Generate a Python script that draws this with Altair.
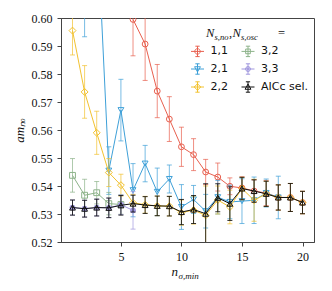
import altair as alt
import pandas as pd

# ---- data ----
n_red = list(range(6, 21))
v_red = [0.5995, 0.5907, 0.5739, 0.5639, 0.5540, 0.5512, 0.5450, 0.5432, 0.5399, 0.5393,
         0.5382, 0.5375, 0.5359, 0.5359, 0.5341]
e_red = [0.013, 0.013, 0.0095, 0.008, 0.007, 0.0057, 0.0045, 0.005, 0.003, 0.004,
         0.004, 0.0045, 0.0045, 0.005, 0.004]

n_blue = list(range(2, 19))
v_blue = [0.603, 0.637, 0.5455, 0.5671, 0.5385, 0.5480, 0.5379, 0.5425, 0.5325, 0.5352,
          0.5310, 0.5360, 0.5343, 0.5346, 0.5349, 0.5375, 0.5359]
e_blue = [0.0097, 0.010, 0.0085, 0.011, 0.0095, 0.0065, 0.0085, 0.005, 0.008, 0.005,
          0.006, 0.006, 0.006, 0.008, 0.0083, 0.005, 0.0076]

n_yel = list(range(1, 21))
v_yel = [0.5955, 0.5736, 0.5590, 0.5448, 0.5403, 0.5340, 0.5333, 0.5329, 0.5328, 0.5305,
         0.5314, 0.5295, 0.5350, 0.5325, 0.5391, 0.5349, 0.5372, 0.5359, 0.5359, 0.5341]
e_yel = [0.0087, 0.0094, 0.0077, 0.005, 0.0039, 0.003, 0.003, 0.0035, 0.0035, 0.0045,
         0.005, 0.0105, 0.005, 0.006, 0.004, 0.0075, 0.0045, 0.0045, 0.005, 0.004]

n_grn = [1, 2, 3, 4, 5]
v_grn = [0.5438, 0.5367, 0.5376, 0.5337, 0.5334]
e_grn = [0.006, 0.0057, 0.004, 0.004, 0.0035]

n_pur = [1, 2, 3, 4, 5, 6]
v_pur = [0.5323, 0.5319, 0.5323, 0.5322, 0.5333, 0.5313]
e_pur = [0.0027, 0.003, 0.003, 0.0035, 0.0035, 0.0067]

n_blk = list(range(1, 21))
v_blk = [0.5323, 0.5319, 0.5323, 0.5322, 0.5331, 0.5337, 0.5332, 0.5329, 0.5328, 0.5307,
         0.5316, 0.5301, 0.5358, 0.5337, 0.5391, 0.5382, 0.5372, 0.5359, 0.5359, 0.5341]
e_blk = [0.0027, 0.003, 0.003, 0.0035, 0.0035, 0.003, 0.003, 0.0035, 0.0035, 0.0045,
         0.005, 0.0107, 0.005, 0.006, 0.004, 0.004, 0.0045, 0.0045, 0.005, 0.004]

names = ["1,1", "2,1", "2,2", "3,2", "3,3", "AICc sel."]
colors = ["#E8604F", "#3EA0D8", "#F2C230", "#8DB38A", "#A097DE", "#111111"]
shapes = ["circle", "triangle-down", "diamond", "square", "circle", "triangle-up"]
filled = [False, False, False, False, True, False]
x_ticks = [0, 5, 10, 15, 20]
y_ticks = [0.52, 0.53, 0.54, 0.55, 0.56, 0.57, 0.58, 0.59, 0.60]

series = [(n_red, v_red, e_red), (n_blue, v_blue, e_blue), (n_yel, v_yel, e_yel),
          (n_grn, v_grn, e_grn), (n_pur, v_pur, e_pur), (n_blk, v_blk, e_blk)]

SERIF = "Liberation Serif"
xs = alt.Scale(domain=[0.05, 20.95], nice=False, zero=False)
ys = alt.Scale(domain=[0.52, 0.60], nice=False, zero=False)
xaxis = alt.Axis(values=x_ticks, title=None, grid=False, format="d",
                 labelFont=SERIF, labelFontSize=12)
yaxis = alt.Axis(values=y_ticks, title="amₙₒ", grid=False, format=".2f",
                 labelFont=SERIF, labelFontSize=12)


def X():
    return alt.X("n:Q", scale=xs, axis=xaxis)


def Y(f):
    return alt.Y(f"{f}:Q", scale=ys, axis=yaxis)


layers = []
for (ns, vs, es), name, col, shp, fl in zip(series, names, colors, shapes, filled):
    df = pd.DataFrame({"n": ns, "v": vs,
                       "lo": [v - e for v, e in zip(vs, es)],
                       "hi": [v + e for v, e in zip(vs, es)]})
    base = alt.Chart(df)
    eop = 0.85 if name == "AICc sel." else 0.7
    layers.append(base.mark_rule(color=col, opacity=eop, strokeWidth=1, clip=True)
                  .encode(x=X(), y=Y("lo"), y2="hi:Q"))
    for f in ["lo", "hi"]:
        layers.append(base.mark_point(shape="M-1,0L1,0", size=25, color=col, opacity=eop,
                                      strokeWidth=1, clip=True)
                      .encode(x=X(), y=Y(f)))
    layers.append(base.mark_line(color=col, strokeWidth=1, clip=True)
                  .encode(x=X(), y=Y("v")))
    layers.append(base.mark_point(shape=shp, size=34 if shp != "diamond" else 48,
                                  color=col, filled=fl, opacity=1,
                                  strokeWidth=1, clip=True)
                  .encode(x=X(), y=Y("v")))

# legend (custom symbols: line + errorbar + marker)
bar = "M-1,0L1,0M0,-0.8L0,0.8M-0.33,-0.8L0.33,-0.8M-0.33,0.8L0.33,0.8"
mk = {
    "circle": "M0.42,0A0.42,0.42 0 1,1 -0.42,0A0.42,0.42 0 1,1 0.42,0Z",
    "triangle-down": "M-0.45,-0.35L0.45,-0.35L0,0.45Z",
    "diamond": "M0,-0.5L0.5,0L0,0.5L-0.5,0Z",
    "square": "M-0.36,-0.36L0.36,-0.36L0.36,0.36L-0.36,0.36Z",
    "hex": "M0.4,0L0.2,0.35L-0.2,0.35L-0.4,0L-0.2,-0.35L0.2,-0.35ZM0.2,0L0,0.2L-0.2,0L0,-0.2Z",
    "triangle-up": "M-0.45,0.35L0.45,0.35L0,-0.45Z",
}
leg_shapes = [bar + mk["circle"], bar + mk["triangle-down"], bar + mk["diamond"],
              bar + mk["square"], bar + mk["hex"], bar + mk["triangle-up"]]

legend = alt.Legend(title=None, orient="none", legendX=129.5, legendY=26, columns=2,
                    columnPadding=10.5, rowPadding=2, symbolSize=169,
                    symbolStrokeWidth=1, symbolOpacity=1, labelFont="DejaVu Sans",
                    labelFontSize=11, labelOffset=6, padding=0, labelColor="#111")
leg_layer = alt.Chart(pd.DataFrame({"s": names})).mark_point(opacity=0, filled=False).encode(
    color=alt.Color("s:N", scale=alt.Scale(domain=names, range=colors), legend=legend),
    shape=alt.Shape("s:N", scale=alt.Scale(domain=names, range=leg_shapes), legend=legend),
)
layers.append(leg_layer)

# text pieces (axis title with subscript, legend title)
def txt(t, x, y, size, italic=True, align="left"):
    return alt.Chart(pd.DataFrame({"t": [t]})).mark_text(
        font=SERIF, fontSize=size, fontStyle="italic" if italic else "normal",
        align=align, baseline="alphabetic", color="#111").encode(
        text="t:N", x=alt.value(x), y=alt.value(y))

layers += [
    txt("n", 110.5, 257.5, 13),
    txt("σ,min", 117.5, 260.5, 9),
    txt("N", 145, 19, 12.5),
    txt("s,no", 153.5, 22, 8.5),
    txt(",", 168, 19, 12.5, italic=False),
    txt("N", 171.5, 19, 12.5),
    txt("s,osc", 180, 22, 8.5),
    txt("=", 217, 19, 12.5, italic=False),
]

chart = alt.layer(*layers).properties(
    width=253, height=224,
    autosize=alt.AutoSizeParams(type="none"),
    padding={"left": 53, "top": 10, "right": 10, "bottom": 41},
).configure_view(stroke="#444", strokeWidth=1).configure_axis(
    domainColor="#444", tickColor="#444", tickSize=4, labelFont=SERIF, labelFontSize=12,
    labelColor="#111", labelPadding=5, titleFont=SERIF, titleFontSize=13,
    titleFontStyle="italic", titleFontWeight="normal", titleColor="#111", titlePadding=5,
)

chart.save("out.html", embed_options={"renderer": "svg", "actions": False})
